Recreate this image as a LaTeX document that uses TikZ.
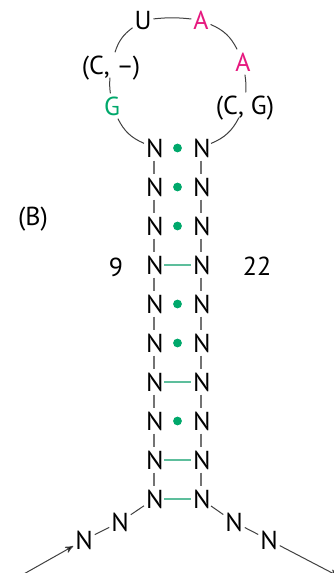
\documentclass[tikz,border=0pt]{standalone}
\usepackage{fontspec}
\setmainfont{PT Sans}
\usetikzlibrary{matrix,arrows,positioning,calc}
\definecolor{pinkA}{HTML}{E6197F}
\definecolor{greenG}{HTML}{00A86B}
\definecolor{pairline}{HTML}{5DBE9C}

\begin{document}
\begin{tikzpicture}[x=0.5pt,y=-0.5pt,font=\fontsize{13}{15}\selectfont,
  base/.style={inner ysep=1.5pt,inner xsep=0.8pt,text height=9.3pt,text depth=0pt},
  loopline/.style={draw=black!75,line width=0.5pt},
  stemline/.style={draw=black!55,line width=0.6pt},
  pairline/.style={draw=pairline,line width=0.6pt},
  pairdot/.style={fill=greenG,draw=none},
  >=stealth']
\useasboundingbox (0,0) rectangle (333,573);
\matrix (m) at (177.5,323.5) [matrix of nodes, row sep=7.2pt, column sep=13.9pt,
  nodes={base,text width=8pt,align=center}]
{
N & N \\
N & N \\
N & N \\
N & N \\
N & N \\
N & N \\
N & N \\
N & N \\
N & N \\
N & N \\
};
% loop
\node[base] (u)  at (143,20)  {U};
\node[base,text=pinkA] (a1) at (201,20)  {A};
\node[base,text=pinkA] (a2) at (243,62)  {A};
\node[base] (cg) at (245,105) {(C, G)};
\node[base,text=greenG] (g)  at (112,106) {G};
\node[base] (cm) at (111,65)  {(C, --)};
\path[loopline]
(m-1-1) edge [bend left=20] (g)
(g) edge [bend left=6] (cm)
(cm) edge [bend left=18] (u)
(u) edge [bend left=6] (a1)
(a1) edge [bend left=20] (a2)
(a2) edge [bend left=6] (cg)
(cg) edge [bend left=20] (m-1-2)
;
% stem
\foreach \i [evaluate=\i as \j using int(\i+1)] in {1,...,9}{
  \path[stemline] (m-\i-1) edge (m-\j-1) (m-\i-2) edge (m-\j-2);
}
\foreach \i in {1,2,3,5,6,8}{
  \fill[pairdot] ($(m-\i-1)!0.5!(m-\i-2)$) circle (2.2pt);
}
\foreach \i in {4,7,9,10}{
  \path[pairline] (m-\i-1) edge (m-\i-2);
}
% tails
\node[base] (l1) at (120,522) {N};
\node[base] (l2) at (84,540)  {N};
\node[base] (r1) at (234,522) {N};
\node[base] (r2) at (269,540) {N};
\coordinate (lin) at (22,575);
\coordinate (rout) at (338,576);
\path[loopline]
(m-10-1) edge (l1)
(l1) edge (l2)
(m-10-2) edge (r1)
(r1) edge (r2)
;
\path[->,loopline]
(lin) edge (l2)
(r2) edge (rout)
;
% labels
\node (lab) at (33,219) {(B)};
\node (n9) at (116,267) {9};
\node (n22) at (257,266) {22};
\end{tikzpicture}
\end{document}
